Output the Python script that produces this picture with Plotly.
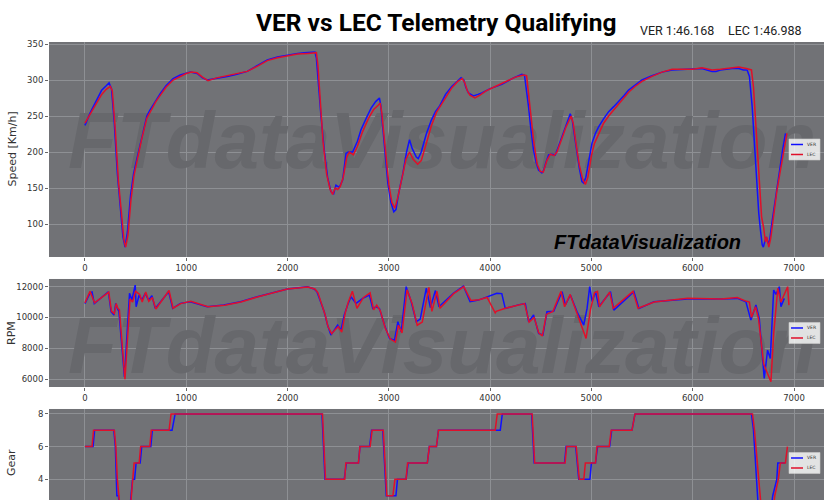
import plotly.graph_objects as go

# ---------------- data ----------------
speed_ver_d = [0, 50, 100, 165, 210, 238, 262, 290, 320, 350, 375, 396, 420, 450, 480, 512, 560, 611, 640, 700, 743, 800, 870, 941, 1000, 1040, 1107, 1160, 1206, 1300, 1404, 1500, 1602, 1700, 1800, 1900, 1999, 2100, 2164, 2270, 2285, 2300, 2330, 2362, 2395, 2428, 2455, 2478, 2495, 2511, 2544, 2577, 2600, 2643, 2690, 2725, 2780, 2825, 2870, 2907, 2920, 2950, 2990, 3020, 3049, 3070, 3100, 3138, 3175, 3204, 3230, 3271, 3290, 3320, 3370, 3419, 3460, 3502, 3560, 3621, 3680, 3713, 3740, 3760, 3786, 3835, 3880, 3918, 4000, 4115, 4231, 4313, 4339, 4360, 4379, 4400, 4428, 4455, 4478, 4511, 4530, 4550, 4577, 4610, 4643, 4675, 4708, 4750, 4791, 4810, 4835, 4857, 4880, 4906, 4923, 4945, 4975, 5005, 5040, 5071, 5120, 5170, 5220, 5268, 5320, 5367, 5430, 5499, 5598, 5697, 5796, 5928, 6000, 6092, 6140, 6191, 6230, 6273, 6330, 6389, 6455, 6500, 6537, 6560, 6587, 6605, 6619, 6635, 6652, 6670, 6686, 6697, 6712, 6725, 6745, 6760, 6780, 6800, 6817, 6840, 6866, 6890, 6916]
speed_ver = [237, 254, 268, 286, 292, 296, 288, 240, 170, 115, 82, 68, 90, 140, 170, 190, 220, 250, 258, 272, 281, 292, 302, 307, 310, 311, 309, 303, 300, 302, 305, 308, 312, 320, 328, 332, 335, 337, 338, 339, 330, 300, 250, 203, 165, 145, 142, 154, 152, 151, 161, 198, 200, 200, 215, 231, 248, 261, 270, 275, 265, 220, 157, 130, 117, 120, 145, 170, 200, 217, 205, 193, 191, 200, 225, 244, 256, 264, 280, 291, 299, 303, 300, 290, 282, 278, 280, 282, 288, 294, 303, 308, 307, 285, 263, 235, 203, 185, 175, 171, 175, 185, 196, 197, 196, 208, 221, 237, 253, 245, 220, 198, 178, 159, 157, 165, 190, 212, 226, 235, 246, 256, 263, 270, 278, 286, 293, 300, 306, 311, 314, 315, 315, 316, 314, 312, 312, 314, 315, 316, 316, 314, 314, 305, 263, 220, 180, 145, 115, 90, 71, 68, 75, 82, 73, 78, 100, 120, 138, 160, 184, 205, 226]

speed_lec_d = [0, 50, 100, 165, 210, 250, 270, 300, 330, 360, 385, 402, 425, 455, 485, 515, 560, 611, 650, 700, 750, 800, 870, 941, 1000, 1050, 1107, 1160, 1215, 1300, 1404, 1500, 1602, 1700, 1800, 1900, 1999, 2100, 2200, 2285, 2300, 2320, 2350, 2385, 2420, 2445, 2470, 2495, 2520, 2550, 2585, 2610, 2650, 2690, 2740, 2800, 2850, 2895, 2915, 2930, 2960, 3000, 3030, 3060, 3090, 3130, 3170, 3204, 3240, 3285, 3320, 3370, 3419, 3470, 3502, 3560, 3621, 3680, 3725, 3750, 3775, 3800, 3850, 3900, 3960, 4050, 4150, 4250, 4330, 4360, 4380, 4400, 4430, 4465, 4495, 4525, 4560, 4595, 4630, 4660, 4700, 4750, 4800, 4820, 4850, 4880, 4915, 4940, 4965, 5000, 5030, 5071, 5120, 5170, 5230, 5300, 5367, 5430, 5499, 5598, 5697, 5796, 5928, 6000, 6092, 6191, 6273, 6330, 6400, 6455, 6530, 6580, 6600, 6620, 6640, 6660, 6680, 6700, 6718, 6730, 6751, 6770, 6800, 6830, 6860, 6895, 6930]
speed_lec = [240, 252, 265, 280, 287, 291, 285, 230, 160, 110, 78, 68, 85, 135, 168, 188, 218, 247, 258, 270, 280, 290, 300, 305, 309, 311, 310, 304, 299, 303, 306, 309, 312, 319, 327, 331, 334, 336, 337, 338, 320, 280, 215, 170, 148, 141, 150, 148, 152, 165, 193, 200, 196, 208, 228, 247, 259, 265, 268, 255, 210, 155, 130, 122, 138, 165, 190, 200, 190, 183, 188, 212, 236, 255, 262, 276, 289, 298, 302, 296, 285, 279, 275, 279, 285, 291, 297, 304, 307, 306, 280, 255, 215, 183, 173, 172, 188, 197, 195, 200, 216, 235, 250, 240, 210, 182, 162, 155, 165, 195, 212, 226, 240, 250, 260, 272, 283, 291, 298, 305, 311, 315, 315, 315, 317, 314, 315, 316, 317, 318, 316, 314, 290, 245, 195, 150, 110, 95, 75, 82, 68, 80, 115, 145, 170, 200, 226]

rpm_ver_d = [0, 50, 70, 92, 231, 258, 287, 304, 320, 335, 390, 440, 463, 496, 505, 535, 562, 595, 628, 661, 694, 826, 866, 942, 1040, 1173, 1206, 1371, 1536, 1701, 1867, 1999, 2197, 2263, 2290, 2322, 2362, 2395, 2428, 2461, 2494, 2527, 2560, 2593, 2626, 2676, 2742, 2808, 2841, 2874, 2907, 2957, 3006, 3056, 3089, 3122, 3171, 3221, 3271, 3310, 3370, 3410, 3460, 3495, 3637, 3736, 3802, 3884, 3967, 4066, 4115, 4149, 4297, 4347, 4380, 4429, 4479, 4521, 4561, 4627, 4710, 4743, 4792, 4858, 4924, 4957, 4983, 5007, 5040, 5073, 5188, 5221, 5419, 5469, 5617, 5947, 6277, 6442, 6525, 6574, 6624, 6657, 6706, 6739, 6766, 6799, 6822, 6855, 6871, 6904]
rpm_ver = [10900, 11600, 11650, 10900, 11670, 10375, 10160, 10917, 10590, 10400, 6150, 11570, 11130, 12100, 10700, 11460, 11130, 11570, 11130, 11415, 10590, 11675, 10590, 10917, 11025, 10765, 10700, 10810, 11025, 11350, 11630, 11850, 12000, 11850, 11675, 11130, 10375, 9510, 8860, 9180, 9510, 9180, 10160, 10810, 11350, 10917, 11240, 11460, 10590, 10700, 10590, 9510, 8640, 8530, 9725, 9075, 12000, 11025, 9725, 9900, 11900, 10650, 11750, 10700, 11570, 12040, 11025, 11130, 11350, 11570, 11550, 10590, 10850, 10900, 9725, 10160, 8970, 8860, 10375, 10400, 11675, 10810, 11460, 10375, 9510, 10590, 12000, 11025, 11675, 10700, 11675, 10480, 11675, 10590, 11025, 11200, 11200, 11240, 11025, 9830, 10810, 9940, 6040, 7880, 7340, 11780, 11500, 12000, 10700, 11240]

rpm_lec_d = [0, 50, 95, 235, 262, 290, 308, 325, 340, 395, 445, 470, 500, 540, 565, 600, 630, 665, 700, 830, 870, 945, 1045, 1180, 1215, 1380, 1540, 1710, 1870, 2000, 2200, 2270, 2300, 2330, 2370, 2400, 2435, 2470, 2500, 2535, 2570, 2600, 2640, 2685, 2750, 2815, 2850, 2880, 2915, 2965, 3015, 3065, 3095, 3130, 3180, 3230, 3280, 3330, 3395, 3425, 3475, 3505, 3640, 3740, 3810, 3890, 3970, 4050, 4060, 4150, 4300, 4340, 4385, 4435, 4480, 4515, 4555, 4620, 4700, 4735, 4790, 4855, 4910, 4947, 4990, 5030, 5060, 5080, 5180, 5215, 5410, 5460, 5620, 5950, 6280, 6440, 6530, 6560, 6580, 6620, 6650, 6700, 6730, 6772, 6800, 6840, 6870, 6900, 6937, 6950]
rpm_lec = [10950, 11700, 10950, 11650, 10400, 10250, 10900, 10600, 10500, 6000, 11200, 11000, 11700, 11500, 11000, 11650, 11050, 11300, 10550, 11750, 10600, 10900, 11050, 10750, 10700, 10800, 11000, 11350, 11600, 11850, 11980, 11850, 11600, 11000, 10200, 9400, 8950, 9200, 9400, 9050, 10300, 11000, 11700, 10600, 11300, 11600, 10500, 10800, 10450, 9300, 8600, 8400, 9500, 9000, 11800, 10900, 9500, 9700, 11950, 10400, 11700, 10600, 11550, 12000, 11100, 11150, 11300, 10300, 10400, 10600, 10850, 10900, 9700, 10000, 9000, 8800, 10200, 10400, 11700, 10700, 11500, 10300, 9300, 8640, 10500, 11600, 11700, 10700, 11650, 10600, 11700, 10600, 11000, 11250, 11200, 11300, 11050, 11000, 10000, 10700, 9900, 7000, 6500, 5830, 9000, 11900, 11000, 11400, 12000, 10800]

gear_ver_d = [0, 80, 95, 285, 300, 315, 330, 345, 440, 455, 470, 490, 505, 545, 560, 650, 665, 860, 890, 2340, 2370, 2560, 2580, 2700, 2715, 2810, 2830, 2940, 2975, 3070, 3085, 3170, 3190, 3380, 3400, 3470, 3490, 4100, 4120, 4410, 4435, 4735, 4750, 4845, 4875, 4985, 5000, 5040, 5060, 5180, 5200, 5400, 5430, 6580, 6600, 6650, 6770, 6790, 6830, 6840, 6910]
gear_ver = [6, 6, 7, 7, 6, 3, 3, 2, 2, 3, 4, 4, 5, 5, 6, 6, 7, 7, 8, 8, 4, 4, 5, 5, 6, 6, 7, 7, 3, 3, 4, 4, 5, 5, 6, 6, 7, 7, 8, 8, 5, 5, 6, 6, 4, 4, 5, 5, 6, 6, 7, 7, 8, 8, 7, 2, 2, 3, 4, 5, 5]

gear_lec_d = [0, 70, 85, 290, 305, 320, 335, 350, 445, 460, 475, 485, 535, 550, 640, 655, 830, 850, 2345, 2375, 2565, 2575, 2700, 2715, 2815, 2835, 2945, 2980, 3040, 3060, 3170, 3185, 3380, 3400, 3470, 3490, 4050, 4070, 4415, 4440, 4740, 4755, 4850, 4880, 4925, 4940, 5040, 5055, 5175, 5195, 5400, 5430, 6590, 6610, 6680, 6790, 6810, 6845, 6865, 6915, 6935]
gear_lec = [6, 6, 7, 7, 6, 4, 3, 2, 2, 3, 4, 5, 5, 6, 6, 7, 7, 8, 8, 4, 4, 5, 5, 6, 6, 7, 7, 3, 3, 4, 4, 5, 5, 6, 6, 7, 7, 8, 8, 5, 5, 6, 6, 4, 4, 5, 5, 6, 6, 7, 7, 8, 8, 7, 2, 2, 3, 4, 5, 5, 6]

drivers = ["VER", "LEC"]
lap_times = ["1:46.168", "1:46.988"]
x_ticks = [0, 1000, 2000, 3000, 4000, 5000, 6000, 7000]

# ---------------- style ----------------
BLUE = "#1010ff"
RED = "#e0102a"
BG = "#717276"
GRID = "#8e9094"
WM = "#67686c"
TXT = "#333333"

fig = go.Figure()

wm_font = dict(family="Liberation Sans", size=80, color=WM, weight="bold", style="italic")
# watermarks (clipped to plot areas)
fig.add_trace(go.Scatter(x=[3525], y=[206], mode="text", text=["FTdataVisualization"], textfont=wm_font,
                         cliponaxis=True, hoverinfo="skip", showlegend=False, xaxis="x", yaxis="y"))
fig.add_trace(go.Scatter(x=[3525], y=[7700], mode="text", text=["FTdataVisualization"], textfont=wm_font,
                         cliponaxis=True, hoverinfo="skip", showlegend=False, xaxis="x2", yaxis="y2"))

series = [
    (speed_ver_d, speed_ver, speed_lec_d, speed_lec, "x", "y"),
    (rpm_ver_d, rpm_ver, rpm_lec_d, rpm_lec, "x2", "y2"),
    (gear_ver_d, gear_ver, gear_lec_d, gear_lec, "x3", "y3"),
]
for vd, vv, ld, lv, xa, ya in series:
    fig.add_trace(go.Scatter(x=vd, y=vv, mode="lines", name=drivers[0], line=dict(color=BLUE, width=1.5),
                             xaxis=xa, yaxis=ya, showlegend=False))
    fig.add_trace(go.Scatter(x=ld, y=lv, mode="lines", name=drivers[1], line=dict(color=RED, width=1.5),
                             xaxis=xa, yaxis=ya, showlegend=False))

xr = [-355, 7296]
tickfont = dict(family="DejaVu Sans", size=8.5, color=TXT)
common_x = dict(range=xr, tickvals=x_ticks, showgrid=True, gridcolor=GRID, gridwidth=1, zeroline=False,
                ticks="outside", ticklen=3, tickcolor="#666", tickfont=tickfont, showline=False, fixedrange=True)
common_y = dict(showgrid=True, gridcolor=GRID, gridwidth=1, zeroline=False, ticks="outside", ticklen=3,
                tickcolor="#666", tickfont=tickfont, showline=False, fixedrange=True, tickformat="d")

doms = [[0.5474, 1.0], [0.2737, 0.5011], [0.0, 0.2274]]
fig.update_layout(
    width=840, height=545,
    margin=dict(l=49, r=16, t=42, b=28, pad=0),
    paper_bgcolor="white", plot_bgcolor=BG,
    showlegend=False,
    xaxis=dict(domain=[0, 1], anchor="y", **common_x),
    yaxis=dict(domain=doms[0], anchor="x", range=[54.2, 352.8], tickvals=[100, 150, 200, 250, 300, 350], **common_y),
    xaxis2=dict(domain=[0, 1], anchor="y2", **common_x),
    yaxis2=dict(domain=doms[1], anchor="x2", range=[5490, 12500], tickvals=[6000, 8000, 10000, 12000], **common_y),
    xaxis3=dict(domain=[0, 1], anchor="y3", showticklabels=False, **common_x),
    yaxis3=dict(domain=doms[2], anchor="x3", range=[1.7, 8.3], tickvals=[4, 6, 8], **common_y),
)

ann = []
# title and lap times
ann.append(dict(text="<b>VER vs LEC Telemetry Qualifying</b>", xref="paper", yref="paper", x=0.5006, y=1,
                yshift=20, xanchor="center", yanchor="middle", showarrow=False,
                font=dict(family="Roboto", size=24.5, color="black")))
ann.append(dict(text=f"{drivers[0]} {lap_times[0]}", xref="paper", yref="paper", x=(677 - 49) / 775, y=1,
                yshift=12, xanchor="center", yanchor="middle", showarrow=False,
                font=dict(family="Roboto", size=12.5, color="#222")))
ann.append(dict(text=f"{drivers[1]} {lap_times[1]}", xref="paper", yref="paper", x=(765 - 49) / 775, y=1,
                yshift=12, xanchor="center", yanchor="middle", showarrow=False,
                font=dict(family="Roboto", size=12.5, color="#222")))
# black watermark
ann.append(dict(text="FTdataVisualization", xref="x", yref="y", x=5558, y=75, xanchor="center", yanchor="middle",
                showarrow=False, font=dict(family="Liberation Sans", size=20, color="black",
                                           weight="bold", style="italic")))
# y titles
ytitles = ["Speed [Km/h]", "RPM", "Gear"]
for t, dom in zip(ytitles, doms):
    ann.append(dict(text=t, xref="paper", yref="paper", x=(12 - 49) / 775, y=(dom[0] + dom[1]) / 2,
                    xanchor="center", yanchor="middle", textangle=-90, showarrow=False,
                    font=dict(family="DejaVu Sans", size=11, color=TXT)))

# legends (one per subplot, center right)
shapes = []
axis_ids = [("x", "y", 215), ("x2", "y2", 108), ("x3", "y3", 108)]
for xa, ya, hpx in axis_ids:
    xd, yd = f"{xa} domain", f"{ya} domain"
    half = 10.5 / hpx
    shapes.append(dict(type="rect", xref=xd, yref=yd, x0=(789 - 49) / 775, x1=(820 - 49) / 775,
                       y0=0.5 - half, y1=0.5 + half, fillcolor="rgba(255,255,255,0.8)",
                       line=dict(color="#cccccc", width=0.6), layer="above"))
    for i, (name, col) in enumerate(zip(drivers, [BLUE, RED])):
        yy = 0.5 + (5 if i == 0 else -5) / hpx
        shapes.append(dict(type="line", xref=xd, yref=yd, x0=(791 - 49) / 775, x1=(803 - 49) / 775,
                           y0=yy, y1=yy, line=dict(color=col, width=1.5), layer="above"))
        ann.append(dict(text=name, xref=xd, yref=yd, x=(806 - 49) / 775, y=yy, xanchor="left", yanchor="middle",
                        showarrow=False, borderpad=0,
                        font=dict(family="DejaVu Sans", size=4.5, color="#333")))

fig.update_layout(annotations=ann, shapes=shapes)

fig.write_html("out.html", config={"displayModeBar": False},
               post_script="document.body.style.margin='0px';document.body.style.overflow='hidden';")
